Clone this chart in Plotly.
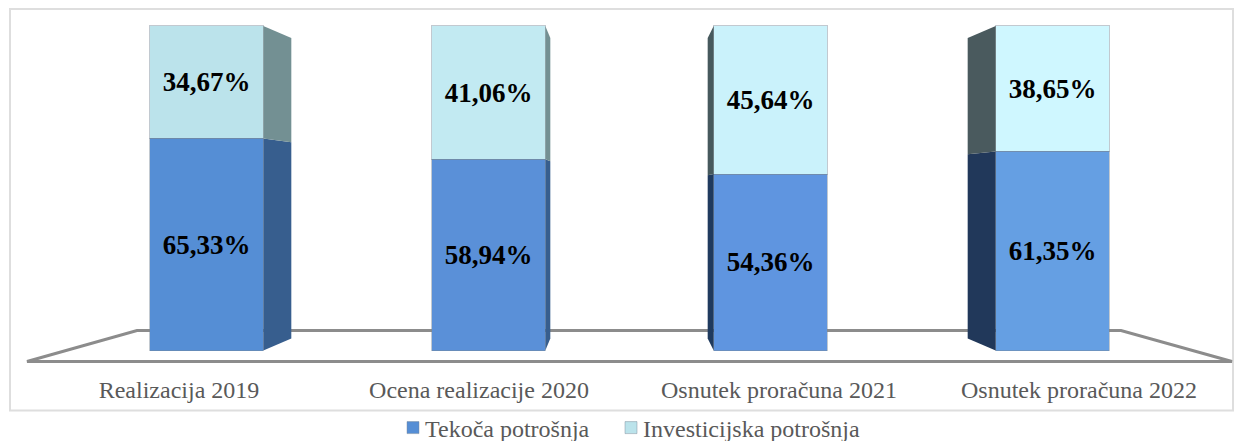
import plotly.graph_objects as go

categories = ["Realizacija 2019", "Ocena realizacije 2020", "Osnutek proračuna 2021", "Osnutek proračuna 2022"]
tekoca = [65.33, 58.94, 54.36, 61.35]
investicijska = [34.67, 41.06, 45.64, 38.65]

W, H = 1236, 441
MB = 40                       # bottom margin reserved for the legend
P = 376                       # resulting plot area height once the two legends have pushed it
# pixel calibration of the axes
X0, XSTEP = 206.5, 282.0      # bar centres
LX0, LXSTEP = 179.0, 300.0    # category label centres
Y0, YUNIT = 351.0, 3.25       # value 0 pixel and pixels per percent
BAR_W = 0.403

def xd(px):
    return (px - X0) / XSTEP

def yd(py):
    return (Y0 - py) / YUNIT

# horizontal reach of each bar's side face, in axis units (negative = left side)
side_dx = [28 / XSTEP, 5 / XSTEP, -6 / XSTEP, -28 / XSTEP]
DEPTH = 3.69  # vertical perspective of the back edge, in percent

front_low = ["#558ED5", "#5A90D8", "#5F95E0", "#659FE3"]
front_high = ["#BBE3EB", "#C2EAF2", "#CAF2FB", "#CFF7FF"]
side_low = ["#375E8E", "#375E8E", "#1F3A5E", "#21385A"]
side_high = ["#739093", "#739093", "#46595D", "#4A5A5E"]

def back(v):
    return DEPTH + v * (1 - 2 * DEPTH / 100)

fig = go.Figure()

def add_side(i, lo, hi, color):
    edge = i + (BAR_W / 2 if side_dx[i] > 0 else -BAR_W / 2)
    far = edge + side_dx[i]
    fig.add_trace(go.Scatter(
        x=[edge, far, far, edge, edge], y=[lo, back(lo), back(hi), hi, lo],
        mode="lines", fill="toself", fillcolor=color, line=dict(width=0),
        showlegend=False, hoverinfo="skip"))

for i in range(len(categories)):
    add_side(i, 0, tekoca[i], side_low[i])
    add_side(i, tekoca[i], tekoca[i] + investicijska[i], side_high[i])

xs = list(range(len(categories)))
edge_line = dict(width=1, color="rgba(120,135,150,0.45)")
for name, vals, colors, leg in [("Tekoča potrošnja", tekoca, front_low, "legend"),
                                ("Investicijska potrošnja", investicijska, front_high, "legend2")]:
    fig.add_trace(go.Bar(
        x=xs, y=vals, name=name, width=BAR_W, legend=leg,
        marker=dict(color=colors, line=edge_line),
        text=[f"{v:.2f}%".replace(".", ",") for v in vals],
        textposition="inside", insidetextanchor="middle", textangle=0,
        constraintext="none",
        textfont=dict(family="Liberation Serif", size=27, color="#000000",
                      weight="bold")))

# invisible trace that carries the category labels axis
fig.add_trace(go.Scatter(x=xs, y=[0, 0, 0, 0], xaxis="x2", mode="none",
                         showlegend=False, hoverinfo="skip"))

legend_common = dict(orientation="h", xref="container", yref="container",
                     xanchor="left", y=(H - 428) / H, yanchor="middle",
                     font=dict(family="Liberation Serif", size=24, color="#595959"),
                     bgcolor="rgba(0,0,0,0)", itemclick=False, itemdoubleclick=False)

fig.update_layout(
    width=W, height=H, margin=dict(l=0, r=0, t=0, b=MB), autosize=False,
    barmode="stack", paper_bgcolor="white", plot_bgcolor="white",
    font=dict(family="Liberation Serif", color="#595959", size=24),
    xaxis=dict(range=[xd(0), xd(W)], visible=False, domain=[0, 1]),
    xaxis2=dict(range=[(0 - LX0) / LXSTEP, (W - LX0) / LXSTEP], overlaying="x",
                anchor="free", position=(P - 373) / P, side="bottom",
                tickmode="array", tickvals=xs, ticktext=categories,
                showgrid=False, zeroline=False, showline=False, ticks="",
                tickfont=dict(family="Liberation Serif", size=24, color="#595959")),
    yaxis=dict(range=[yd(P), yd(0)], visible=False, domain=[0, 1]),
    legend=dict(x=(425 - 40) / W, **legend_common),
    legend2=dict(x=(643 - 40) / W, **legend_common),
    shapes=[
        dict(type="path", layer="below", xref="x", yref="y",
             path=f"M{xd(27)},{yd(362)} L{xd(137)},{yd(331)} L{xd(1121)},{yd(331)} "
                  f"L{xd(1232)},{yd(362)} Z",
             line=dict(color="#8C8C8C", width=3), fillcolor="rgba(0,0,0,0)"),
        dict(type="rect", layer="below", xref="paper", yref="paper",
             x0=10 / W, x1=1233 / W, y0=(P - 411) / P, y1=(P - 9) / P,
             line=dict(color="#DEDEDE", width=2), fillcolor="rgba(0,0,0,0)"),
    ],
)

post = """
document.body.style.margin='0';
var gd=document.getElementById('{plot_id}');
function nudge(){document.querySelectorAll('.legendsymbols').forEach(function(e){e.setAttribute('transform','translate(8,0)');});}
nudge();gd.on('plotly_afterplot',nudge);setTimeout(nudge,50);
"""
fig.write_html("out.html", post_script=post, config={"displayModeBar": False})
